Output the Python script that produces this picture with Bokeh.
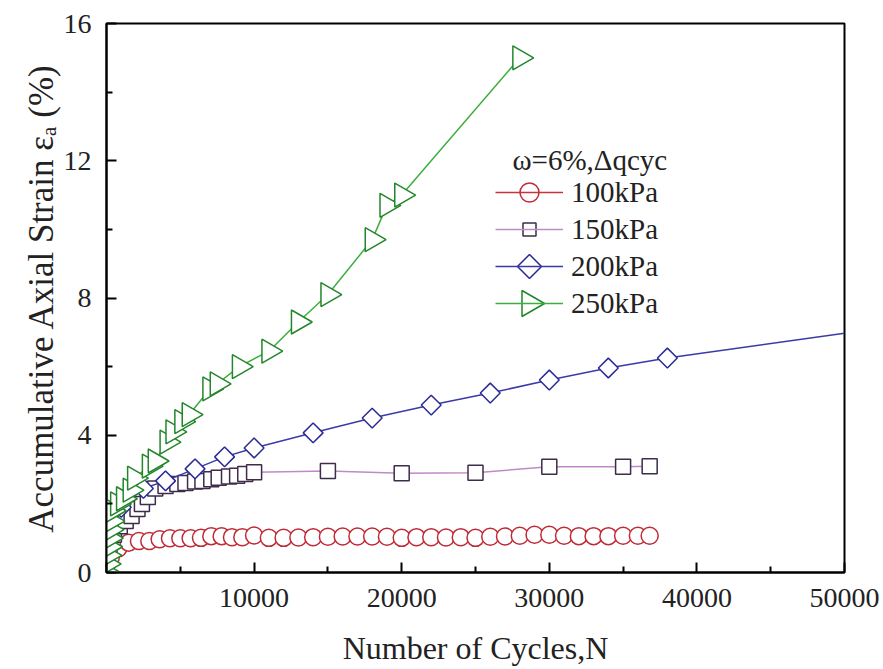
import numpy as np
from bokeh.plotting import figure
from bokeh.models import FixedTicker, Label, Legend, LegendItem
from bokeh.embed import file_html
from bokeh.resources import INLINE

# ---------------- data ----------------
n100 = [0, 300, 800, 1500, 2200, 2900, 3600, 4300, 5000, 5700, 6400, 7100, 7800, 8500,
        9200, 10000, 11000, 12000, 13000, 14000, 15000, 16000, 17000, 18000, 19000, 20000,
        21000, 22000, 23000, 24000, 25000, 26000, 27000, 28000, 29000, 30000, 31000, 32000,
        33000, 34000, 35000, 36000, 36800]
e100 = [0, 0.45, 0.7, 0.87, 0.92, 0.92, 0.97, 1.0, 1.0, 1.0, 1.01, 1.06, 1.06, 1.03,
        1.03, 1.08, 1.01, 1.01, 1.02, 1.03, 1.04, 1.05, 1.05, 1.05, 1.04, 1.01,
        1.03, 1.03, 1.02, 1.03, 1.01, 1.04, 1.05, 1.07, 1.1, 1.1, 1.07, 1.06,
        1.06, 1.06, 1.07, 1.07, 1.07]

n150 = [0, 200, 500, 900, 1300, 1700, 2100, 2400, 2800, 3300, 4000, 4800, 5350, 6000,
        6500, 7100, 7600, 8300, 8850, 9400, 10000, 15000, 20000, 25000, 30000, 35000, 36800]
e150 = [0, 0.7, 1.1, 1.35, 1.5, 1.65, 1.85, 2.0, 2.2, 2.45, 2.52, 2.58, 2.61, 2.65,
        2.67, 2.72, 2.76, 2.8, 2.82, 2.87, 2.92, 2.96, 2.89, 2.91, 3.08, 3.08, 3.1]

n200 = [0, 200, 1000, 2500, 4000, 6000, 8000, 10000, 14000, 18000, 22000, 26000, 30000,
        34000, 38000, 50000]
e200 = [0, 1.0, 1.9, 2.45, 2.67, 3.02, 3.37, 3.63, 4.07, 4.5, 4.88, 5.23, 5.61,
        5.96, 6.25, 6.97]
n200_markers = 15   # the last point (at the frame edge) has no marker

n250 = [0, 50, 100, 150, 200, 250, 300, 400, 750, 1150, 1600, 1900, 2900, 3300, 4100,
        4500, 5100, 5600, 7000, 7500, 9000, 11000, 13000, 15000, 18000, 19000, 20000, 28000]
e250 = [0, 0.25, 0.5, 0.75, 1.0, 1.25, 1.5, 1.8, 2.0, 2.15, 2.4, 2.75, 3.1, 3.25, 3.8,
        4.1, 4.4, 4.6, 5.35, 5.5, 6.0, 6.45, 7.3, 8.1, 9.7, 10.7, 11.0, 15.0]

x_major = [0, 10000, 20000, 30000, 40000, 50000]
x_minor = [5000, 15000, 25000, 35000, 45000]
y_major = [0, 4, 8, 12, 16]
y_minor = [2, 6, 10, 14]

legend_title = "ω=6%,Δqcyc"
labels = ["100kPa", "150kPa", "200kPa", "250kPa"]

FONT = "Liberation Serif"
X0, X1, Y0, Y1 = 0, 50000, 0, 16
FW, FH = 738, 549          # frame size in px

p = figure(width=883, height=669, x_range=(X0, X1), y_range=(Y0, Y1),
           output_backend="svg", toolbar_location=None,
           min_border_left=106, min_border_right=39, min_border_top=23, min_border_bottom=97)
p.xgrid.visible = False
p.ygrid.visible = False
p.outline_line_color = "black"
p.outline_line_width = 2
p.background_fill_color = "white"

# colours
red_line, red_edge = "#c8323c", "#c02a36"
pur_line, pur_edge = "#c08ac8", "#3e2c4a"
blu_line, blu_edge = "#3a3aa8", "#2a2a96"
grn_line, grn_edge = "#3cae3c", "#23862a"

l100 = p.line(n100, e100, line_color=red_line, line_width=1.5)
p.scatter(n100, e100, marker="circle", size=17, line_color=red_edge, line_width=1.5,
          fill_color="white")

l150 = p.line(n150, e150, line_color=pur_line, line_width=1.5)
p.scatter(n150, e150, marker="square", size=15, line_color=pur_edge, line_width=1.5,
          fill_color="white")

l200 = p.line(n200, e200, line_color=blu_line, line_width=1.5)
p.scatter(n200[:n200_markers], e200[:n200_markers], marker="square", angle=np.pi / 4,
          size=14, line_color=blu_edge, line_width=1.5, fill_color="white")

l250 = p.line(n250, e250, line_color=grn_line, line_width=1.5)
p.scatter(n250, e250, marker="triangle", angle=-np.pi / 2, size=24, line_color=grn_edge,
          line_width=1.5, fill_color="white")

# axes
for ax in (p.xaxis[0], p.yaxis[0]):
    ax.axis_line_width = 2
    ax.axis_line_color = "black"
    ax.major_tick_in = 10
    ax.major_tick_out = 0
    ax.minor_tick_in = 6
    ax.minor_tick_out = 0
    ax.major_tick_line_width = 2
    ax.minor_tick_line_width = 2
    ax.major_label_text_font = FONT
    ax.major_label_text_font_size = "28px"
    ax.major_label_text_color = "#222222"
    ax.axis_label_text_font = FONT
    ax.axis_label_text_font_style = "normal"
    ax.axis_label_text_color = "#222222"

p.xaxis.ticker = FixedTicker(ticks=x_major, minor_ticks=x_minor)
p.yaxis.ticker = FixedTicker(ticks=y_major, minor_ticks=y_minor)
p.xaxis.major_label_overrides = {0: ""}
p.xaxis.major_label_standoff = 16
p.yaxis.major_label_standoff = 15
p.xaxis.axis_label = "Number of Cycles,N"
p.xaxis.axis_label_text_font_size = "32px"
p.xaxis.axis_label_standoff = 20
p.yaxis.axis_label = "Accumulative Axial Strain εₐ (%)"
p.yaxis.axis_label_text_font_size = "35px"
p.yaxis.axis_label_standoff = 0

# legend (lines + labels by Bokeh, keys' markers drawn on top of it)
LEG_X, LEG_Y = 389, 251        # legend bottom-left, px from frame bottom-left
GW, GH, SP = 68, 36, 1
lg = Legend(items=[LegendItem(label=labels[0], renderers=[l100]),
                   LegendItem(label=labels[1], renderers=[l150]),
                   LegendItem(label=labels[2], renderers=[l200]),
                   LegendItem(label=labels[3], renderers=[l250])],
            location=(LEG_X, LEG_Y), border_line_alpha=0, background_fill_alpha=0,
            padding=0, margin=0, spacing=SP, glyph_width=GW, glyph_height=GH,
            label_height=GH, label_standoff=8, label_text_font=FONT,
            label_text_font_size="29px", label_text_color="#222222")
p.add_layout(lg)

n_items = 4
kx = X0 + (LEG_X + GW / 2) / FW * (X1 - X0)
ky = [Y0 + (LEG_Y + GH / 2 + (n_items - 1 - i) * (GH + SP)) / FH * (Y1 - Y0)
      for i in range(n_items)]
key_style = [
    dict(marker="circle", size=19, line_color=red_edge, angle=0),
    dict(marker="square", size=13, line_color=pur_edge, angle=0),
    dict(marker="square", size=17, line_color=blu_edge, angle=np.pi / 4),
    dict(marker="triangle", size=26, line_color=grn_edge, angle=-np.pi / 2),
]
for i, st in enumerate(key_style):
    p.scatter([kx], [ky[i]], fill_color="white", line_width=1.5, level="overlay", **st)

title = Label(x=X0 + (512 - 106) / FW * (X1 - X0),
              y=Y0 + (LEG_Y + n_items * GH + (n_items - 1) * SP + 15) / FH * (Y1 - Y0),
              text=legend_title, text_font=FONT, text_font_size="29px",
              text_baseline="middle", text_color="#222222")
p.add_layout(title)

open("out.html", "w").write(file_html(p, INLINE))
